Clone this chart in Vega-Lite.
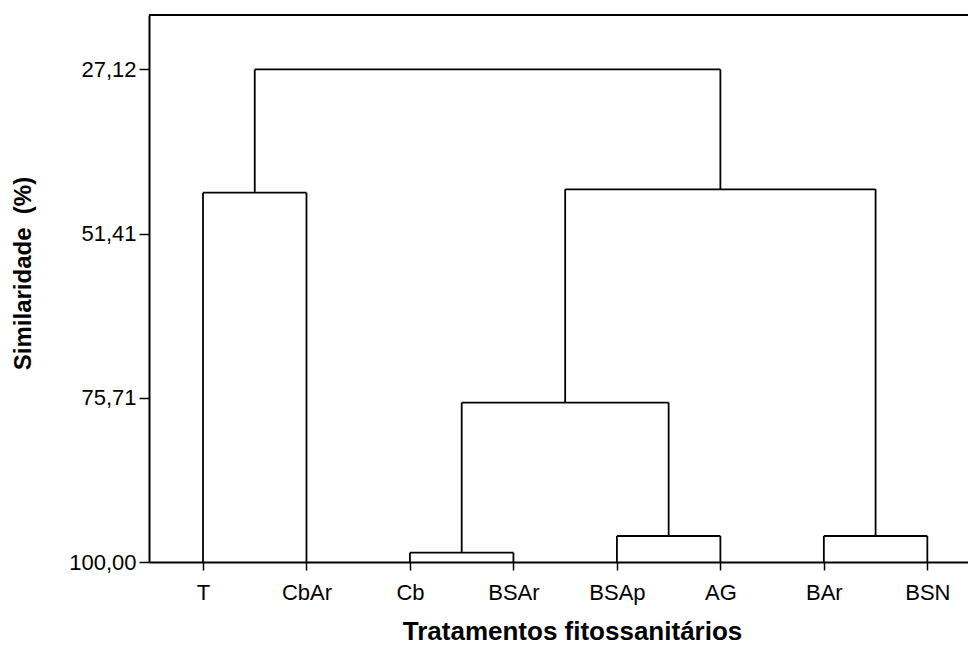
{
  "$schema": "https://vega.github.io/schema/vega-lite/v6.json",
  "width": 819,
  "height": 547,
  "autosize": {"type": "none"},
  "padding": {"left": 149, "top": 15, "right": 0, "bottom": 88},
  "background": "white",
  "config": {
    "view": {"stroke": null},
    "axis": {
      "labelFont": "Liberation Sans",
      "titleFont": "Liberation Sans",
      "labelColor": "black",
      "titleColor": "black",
      "domainColor": "black",
      "tickColor": "black",
      "grid": false
    }
  },
  "datasets": {
    "segments": [
      {"x": 1, "x2": 1, "y": 100, "y2": 45.35},
      {"x": 2, "x2": 2, "y": 100, "y2": 45.35},
      {"x": 3, "x2": 3, "y": 100, "y2": 98.62},
      {"x": 4, "x2": 4, "y": 100, "y2": 98.62},
      {"x": 5, "x2": 5, "y": 100, "y2": 96.15},
      {"x": 6, "x2": 6, "y": 100, "y2": 96.15},
      {"x": 7, "x2": 7, "y": 100, "y2": 96.15},
      {"x": 8, "x2": 8, "y": 100, "y2": 96.15},
      {"x": 1, "x2": 2, "y": 45.35, "y2": 45.35},
      {"x": 3, "x2": 4, "y": 98.62, "y2": 98.62},
      {"x": 5, "x2": 6, "y": 96.15, "y2": 96.15},
      {"x": 7, "x2": 8, "y": 96.15, "y2": 96.15},
      {"x": 3.5, "x2": 5.5, "y": 76.42, "y2": 76.42},
      {"x": 4.5, "x2": 7.5, "y": 44.85, "y2": 44.85},
      {"x": 1.5, "x2": 6, "y": 27.12, "y2": 27.12},
      {"x": 1.5, "x2": 1.5, "y": 45.35, "y2": 27.12},
      {"x": 3.5, "x2": 3.5, "y": 98.62, "y2": 76.42},
      {"x": 5.5, "x2": 5.5, "y": 96.15, "y2": 76.42},
      {"x": 4.5, "x2": 4.5, "y": 76.42, "y2": 44.85},
      {"x": 7.5, "x2": 7.5, "y": 96.15, "y2": 44.85},
      {"x": 6, "x2": 6, "y": 44.85, "y2": 27.12}
    ]
  },
  "layer": [
    {
      "data": {"name": "segments"},
      "mark": {"type": "rule", "color": "black", "strokeWidth": 1.8},
      "encoding": {
        "x": {
          "field": "x",
          "type": "quantitative",
          "scale": {"domain": [0.478, 8.393], "nice": false, "zero": false},
          "axis": {
            "values": [1, 2, 3, 4, 5, 6, 7, 8],
            "labelExpr": "['T','CbAr','Cb','BSAr','BSAp','AG','BAr','BSN'][datum.value - 1]",
            "labelFontSize": 22,
            "labelPadding": 12,
            "tickSize": 8,
            "tickWidth": 1.5,
            "domainWidth": 2,
            "title": "Tratamentos fitossanitários",
            "titleFontSize": 26,
            "titleFontWeight": "bold",
            "titleX": 423,
            "titleY": 56,
            "titleBaseline": "top",
            "titleAlign": "center"
          }
        },
        "x2": {"field": "x2"},
        "y": {
          "field": "y",
          "type": "quantitative",
          "scale": {"domain": [19.06, 100], "reverse": true, "nice": false, "zero": false},
          "axis": {
            "values": [27.12, 51.41, 75.71, 100],
            "labelExpr": "replace(format(datum.value, '.2f'), '.', ',')",
            "labelFontSize": 22,
            "labelPadding": 3,
            "tickSize": 10,
            "tickWidth": 1.5,
            "domainWidth": 2,
            "title": "Similaridade\u00a0 (%)",
            "titleFontSize": 24,
            "titleFontWeight": "bold",
            "titleX": -126,
            "titleY": 258,
            "titleAngle": -90,
            "titleBaseline": "middle",
            "titleAlign": "center"
          }
        },
        "y2": {"field": "y2"}
      }
    },
    {
      "data": {"values": [{"edge": 19.06}]},
      "mark": {"type": "rule", "color": "black", "strokeWidth": 2},
      "encoding": {
        "y": {"field": "edge", "type": "quantitative"}
      }
    }
  ]
}
